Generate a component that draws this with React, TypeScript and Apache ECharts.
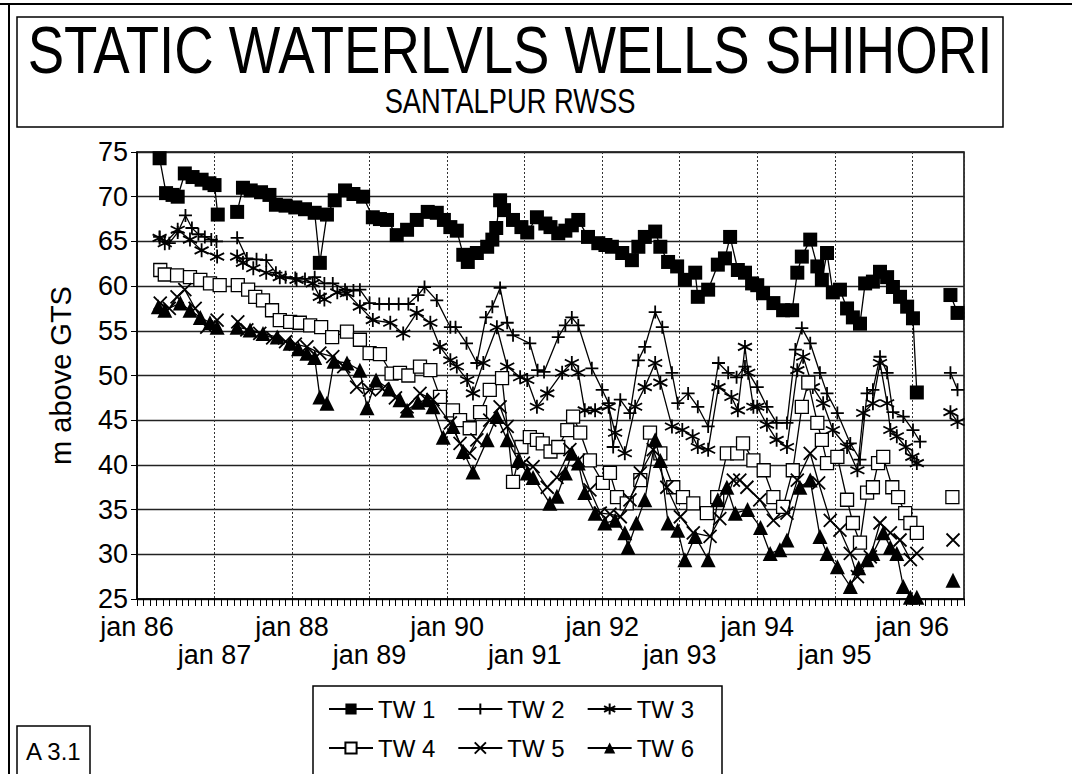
import React, { useEffect, useRef } from "react";
import * as echarts from "echarts";

const FONT = "'Liberation Sans', Arial, Helvetica, sans-serif";

const TITLE = "STATIC WATERLVLS WELLS SHIHORI";
const SUBTITLE = "SANTALPUR RWSS";
const Y_NAME = "m above GTS";
const FIGURE_TAG = "A 3.1";
const START_YEAR = 86; // x = months since jan 86
const X_MAX_MONTH = 128;
const Y_MIN = 25;
const Y_MAX = 75;
const Y_STEP = 5;
const SERIES_NAMES = ["TW 1", "TW 2", "TW 3", "TW 4", "TW 5", "TW 6"];

// [month since jan 86, m above GTS]; "-" marks missing readings
const tw1: any[] = [
  [3.5, 74.3], [4.5, 70.4], [5.5, 70.2], [6.3, 70.0], [7.4, 72.6], [8.6, 72.2], [10, 71.9], [11.2, 71.5], [12, 71.3], [12.5, 68.0],
  [14, "-"],
  [15.5, 68.3], [16.4, 71.0], [17.6, 70.7], [19.2, 70.5], [20.5, 70.2], [21.5, 69.1], [23, 69.0], [24.5, 68.8], [26, 68.6], [27.5, 68.2],
  [28.3, 62.6], [29.4, 68.0], [30.6, 69.6], [32.2, 70.7], [33.5, 70.3], [35, 70.0], [36.5, 67.7], [37.6, 67.5], [38.7, 67.4], [40.2, 65.7],
  [41.8, 66.3], [43.3, 67.4], [45, 68.3], [46.4, 68.2], [47.5, 67.4], [48.5, 66.6], [49.5, 66.2], [50.5, 63.5], [51.2, 62.7], [52.6, 63.7],
  [54.2, 64.4], [55, 65.2], [55.6, 66.5], [56.2, 69.6], [56.8, 68.5], [58.2, 67.4], [59.5, 66.6], [60.4, 66.0], [61.9, 67.7], [63.2, 67.0],
  [64, 66.6], [65.2, 65.9], [66.3, 66.2], [67.3, 66.8], [68.3, 67.4], [69.8, 65.5], [71.4, 64.8], [72.5, 64.6], [73.5, 64.4], [75.1, 63.7],
  [76.6, 62.9], [77.6, 64.4], [78.6, 65.5], [80.2, 66.1], [81, 64.4], [82.2, 62.7], [83.6, 62.2], [84.8, 60.7], [86.4, 61.5], [86.8, 58.8],
  [88.4, 59.6], [89.9, 62.4], [91, 63.1], [91.8, 65.5], [93, 61.8], [94.1, 61.5], [95.2, 60.3], [96, 60.1], [96.9, 59.2], [98.5, 58.1],
  [100, 57.3], [101.4, 57.3], [102.2, 61.5], [102.9, 63.3], [104.2, 65.2], [105.3, 62.2], [106, 60.7], [106.8, 63.7], [107.7, 59.3],
  [108.8, 59.6], [109.9, 57.5], [110.8, 56.5], [111.9, 55.8], [112.7, 60.3], [113.9, 60.5], [115, 61.6], [116.1, 61.0], [117, 59.9],
  [118.1, 58.8], [119.2, 57.7], [120.1, 56.4], [120.7, 48.1],
  [123, "-"],
  [125.9, 59.0], [127, 57.0],
];

const tw2: any[] = [
  [3.5, 65.5], [5, 64.8], [6.3, 66.0], [7.5, 67.9], [8.5, 66.5], [9.5, 65.8], [10.5, 65.5], [11.5, 65.2], [12.3, 65.0],
  [14, "-"],
  [15.5, 65.4], [17, 63.1], [18.5, 63.0], [20, 62.9], [21.5, 61.5], [23, 61.0], [24.5, 60.9], [26, 60.8], [27.5, 61.0], [29, 60.3],
  [30.3, 60.3], [32.2, 59.6], [33.5, 59.5], [34.5, 59.6], [36, 58.1], [37.5, 58.0], [39, 58.0], [40.5, 58.0], [42, 58.0], [43.5, 59.0],
  [44.5, 59.9], [46.4, 58.4], [48.5, 55.4], [49.3, 55.4], [51, 53.6], [52.6, 51.4], [54, 56.5], [55, 57.7], [56.2, 59.8], [57.3, 55.9],
  [58.2, 54.5], [60.8, 53.6], [62, 50.6], [63, 50.4], [65.2, 54.3], [66.3, 55.6], [67.3, 56.5], [68.3, 55.6], [70.4, 50.8], [72, 48.4],
  [73, 46.9], [73.7, 42.0], [74.8, 47.3], [76.3, 45.8], [77.6, 51.7], [78.6, 53.2], [80.2, 57.1], [81.3, 55.4], [82.8, 50.3], [83.7, 46.9],
  [85.3, 48.0], [86.8, 46.5], [88.4, 44.3], [90, 51.4], [91.5, 50.3], [92.8, 49.8], [94.1, 51.0], [96, 48.7], [97.5, 46.5], [99, 44.7],
  [100.6, 44.7], [101.9, 52.9], [102.9, 55.3], [104.2, 53.6], [105.7, 50.3], [106.8, 48.0], [108.4, 45.8], [110.4, 42.4], [111.9, 40.6],
  [113, 48.0], [113.9, 48.4], [115, 52.1], [116.1, 50.3], [117, 45.9], [118.6, 45.4], [120.1, 43.9], [121.2, 42.6],
  [123, "-"],
  [125.9, 50.3], [127, 48.4],
];

const tw3: any[] = [
  [3.5, 65.4], [4.3, 64.8], [6.3, 66.3], [8.2, 65.2], [10, 64.0], [12.4, 63.3],
  [14, "-"],
  [15.5, 63.3], [16.4, 62.6], [18, 62.0], [20, 61.5], [22.1, 61.0], [24.7, 60.7], [27.2, 60.3], [28.3, 58.8], [29, 58.5], [31, 59.3],
  [32.5, 59.2], [34.5, 57.7], [36.5, 56.2], [39.2, 55.9], [41.2, 54.7], [43.3, 57.0], [45.4, 55.9], [46.9, 53.2], [48.5, 51.7],
  [49.5, 51.0], [51.1, 49.5], [52, 48.0], [53.6, 51.4], [55.7, 55.4], [57.3, 51.0], [59.3, 49.8], [60.4, 49.5], [61.9, 46.5],
  [63.5, 48.0], [65.8, 50.3], [67.3, 51.4], [68.3, 50.3], [69.3, 46.1], [70.9, 46.1], [73, 46.5], [74, 43.6], [75.5, 41.3], [77.1, 46.5],
  [78.6, 48.7], [80.2, 51.4], [81, 49.2], [82.8, 44.3], [84.4, 43.9], [86, 43.2], [86.8, 42.0], [88.4, 41.7], [90, 48.7], [92, 47.6],
  [93, 46.1], [94.1, 53.2], [94.6, 50.3], [95.4, 46.5], [96, 46.5], [97.5, 44.5], [99, 42.8], [100.6, 42.0], [102.2, 50.6], [103.1, 52.1],
  [104.6, 48.7], [106.2, 46.9], [107.7, 43.9], [109.9, 42.0], [111.5, 39.4], [112.4, 45.8], [113.9, 46.9], [115, 51.4], [116.1, 46.9],
  [116.6, 43.9], [117.6, 43.2], [119, 42.0], [120, 40.9], [120.7, 40.2],
  [123, "-"],
  [125.9, 45.9], [127, 44.8],
];

const tw4: any[] = [
  [3.6, 61.8], [4.3, 61.3], [6.2, 61.2], [8.2, 61.0], [9.8, 60.7], [11.3, 60.3], [12.8, 60.1],
  [14, "-"],
  [15.6, 60.1], [17.2, 59.6], [18.3, 58.8], [19.5, 58.4], [20.9, 57.3], [22.1, 56.2], [23.7, 56.0], [25.2, 55.9], [26.8, 55.6],
  [28.5, 55.4], [30.2, 54.3], [32.5, 54.9], [34.5, 54.0], [36, 52.5], [37.6, 52.4], [39.4, 50.2], [40.7, 50.3], [42, 50.0], [43.8, 51.0],
  [45.4, 50.6], [46.9, 47.6], [48.9, 46.1], [50, 45.0], [51.5, 44.1], [53.1, 45.9], [54.6, 48.4], [56.5, 49.7], [58.2, 38.1], [59.5, 42.0],
  [60.8, 43.1], [61.9, 42.8], [62.8, 42.4], [64, 41.5], [65.2, 42.0], [66.6, 43.9], [67.5, 45.4], [68.6, 43.6], [70.1, 40.5], [72.1, 38.0],
  [73.2, 39.1], [74.3, 36.4], [75.8, 35.7], [77.9, 38.3], [79.4, 43.6], [81, 41.3], [83, 37.5], [84.5, 36.4], [86.1, 35.7], [88.2, 34.6],
  [89.8, 36.4], [91.3, 41.3], [92.9, 41.3], [93.8, 42.4], [95.4, 40.5], [97, 39.4], [98.5, 36.4], [100, 35.3], [101.5, 39.4], [102.9, 46.5],
  [103.9, 49.2], [105.3, 44.7], [106, 42.8], [106.8, 40.2], [108.4, 40.9], [109.9, 36.1], [110.8, 33.5], [111.9, 31.3], [113, 36.9],
  [113.9, 37.5], [114.7, 40.2], [115.5, 40.9], [116.9, 37.5], [117.8, 36.4], [118.9, 34.6], [119.7, 33.5], [120.7, 32.4],
  [123, "-"],
  [126.2, 36.4],
];

const tw5: any[] = [
  [3.6, 58.1], [5, 57.5], [6.2, 58.8], [7.4, 59.6], [9, 57.5], [10.8, 55.4], [12.4, 56.2],
  [14, "-"],
  [15.6, 56.0], [17, 55.1], [19, 54.7], [21, 54.2], [23, 53.8], [24.5, 53.5], [26.3, 53.2], [28.3, 52.5], [30.3, 52.1], [32, 51.0],
  [34, 48.7], [36, 48.4], [38, 48.5], [40, 47.5], [41.8, 46.5], [43.8, 48.0], [45.8, 47.3], [48.5, 44.7], [50, 42.4], [51.5, 41.3],
  [52.6, 42.8], [54.6, 45.0], [56.2, 46.5], [57.3, 44.3], [59.8, 40.2], [61.3, 39.8], [63.5, 37.5], [65, 38.6], [67, 41.7], [68.3, 40.5],
  [70.1, 37.2], [71.7, 34.6], [73.2, 34.5], [74.8, 34.2], [76.3, 36.1], [77.9, 39.1], [79.9, 41.7], [82, 37.5], [84.1, 34.2], [86.1, 32.4],
  [88.7, 32.0], [90.2, 34.0], [92.3, 38.3], [93.3, 38.3], [94.4, 37.5], [96.4, 36.1], [98.5, 33.8], [100.6, 34.6], [102.2, 38.3],
  [104.2, 41.3], [105.5, 38.0], [107.3, 33.8], [108.8, 32.7], [110.4, 30.1], [111.5, 27.5], [113.5, 29.7], [115, 33.5], [116.6, 32.4],
  [118.1, 31.6], [119.7, 29.4], [120.7, 30.1],
  [123, "-"],
  [126.3, 31.6],
];

const tw6: any[] = [
  [3.3, 57.7], [4.3, 57.3], [6.7, 58.1], [8.2, 57.3], [9.8, 56.5], [11.3, 55.9], [12.4, 55.4],
  [14, "-"],
  [15.5, 55.4], [17.5, 55.1], [19.5, 54.7], [21.7, 54.3], [23.7, 53.6], [25, 53.0], [26.3, 52.5], [27.5, 52.0], [28.3, 47.6], [29.4, 46.9],
  [30.5, 51.6], [32.5, 51.4], [34.5, 50.6], [35.6, 46.4], [37, 49.5], [39, 48.5], [40.7, 47.3], [41.8, 46.1], [43.5, 47.0], [44.9, 47.3],
  [45.8, 46.5], [47.4, 43.1], [48.9, 44.3], [50.5, 41.5], [52, 39.2], [54.2, 42.8], [55.7, 45.4], [57.3, 42.8], [59, 40.5], [60.4, 39.1],
  [61.3, 38.6], [63.9, 35.7], [65, 36.5], [66.3, 39.1], [67.3, 41.3], [68.3, 40.2], [69.3, 36.9], [70.9, 34.6], [72.4, 33.5], [74, 33.8],
  [75.5, 32.4], [76, 30.8], [77.3, 33.5], [78.6, 36.1], [80.2, 42.8], [81, 40.5], [82.2, 33.5], [83.7, 32.7], [84.8, 29.4], [86.4, 32.0],
  [88.4, 29.4], [89.9, 36.1], [91.3, 37.5], [92.6, 34.6], [94.5, 35.0], [96.5, 33.0], [98, 30.1], [99.5, 30.5], [100.6, 31.6],
  [102.6, 37.5], [104.2, 38.3], [105.7, 32.0], [106.8, 30.1], [108.4, 28.6], [110.4, 26.4], [111.7, 28.5], [113, 29.4], [113.9, 30.1],
  [115.5, 32.4], [116.6, 30.8], [117.6, 30.1], [118.6, 26.4], [119.7, 25.2], [120.7, 25.2],
  [123, "-"],
  [126.3, 27.1],
];

const SERIES_DATA = [tw1, tw2, tw3, tw4, tw5, tw6];

const MARKERS = [
  { symbol: "rect", size: 14, fill: "#000", stroke: "#000", strokeWidth: 0 },
  { symbol: "path://M0,5L10,5M5,0L5,10", size: 13, fill: "rgba(0,0,0,0)", stroke: "#000", strokeWidth: 1.8 },
  { symbol: "path://M5,0L5,10M0.67,2.5L9.33,7.5M0.67,7.5L9.33,2.5", size: 14, fill: "rgba(0,0,0,0)", stroke: "#000", strokeWidth: 1.8 },
  { symbol: "rect", size: 13, fill: "#fff", stroke: "#000", strokeWidth: 1.3 },
  { symbol: "path://M0,0L10,10M0,10L10,0", size: 13, fill: "rgba(0,0,0,0)", stroke: "#000", strokeWidth: 1.8 },
  { symbol: "triangle", size: 15, fill: "#000", stroke: "#000", strokeWidth: 0 },
];

export default function App() {
  const ref = useRef<HTMLDivElement>(null);

  useEffect(() => {
    if (!ref.current) return;
    const chart = echarts.init(ref.current, undefined, { renderer: "svg" });

    const series = SERIES_NAMES.map((name, i) => ({
      type: "line",
      name,
      data: SERIES_DATA[i],
      symbol: MARKERS[i].symbol,
      symbolSize: MARKERS[i].size,
      showSymbol: true,
      showAllSymbol: true,
      connectNulls: false,
      lineStyle: { color: "#000", width: 1.3 },
      itemStyle: { color: MARKERS[i].fill, borderColor: MARKERS[i].stroke, borderWidth: MARKERS[i].strokeWidth },
      emphasis: { disabled: true },
      z: 2 + i,
    }));

    const legendText = { fontFamily: FONT, fontSize: 24, color: "#000" };

    chart.setOption({
      animation: false,
      backgroundColor: "#fff",
      grid: {
        left: 137, right: 108, top: 152, bottom: 175,
        show: true, borderColor: "#000", borderWidth: 1.5, backgroundColor: "transparent",
      },
      xAxis: {
        type: "value",
        min: 0,
        max: X_MAX_MONTH,
        interval: 12,
        axisLine: { show: true, onZero: false, lineStyle: { color: "#000", width: 1.5 } },
        axisTick: { show: true, inside: false, length: 7, lineStyle: { color: "#000", width: 1 } },
        minorTick: { show: true, splitNumber: 12, length: 7, lineStyle: { color: "#000", width: 1 } },
        splitLine: { show: true, lineStyle: { color: "#333", width: 1, type: [2, 2] } },
        axisLabel: {
          fontFamily: FONT, fontSize: 27, color: "#000", margin: 14, lineHeight: 28,
          showMinLabel: true,
          formatter: (v: number) => {
            if (v % 12 !== 0) return "";
            const k = v / 12;
            const label = `jan ${START_YEAR + k}`;
            return k % 2 === 0 ? label : `\n${label}`;
          },
        },
      },
      yAxis: {
        type: "value",
        min: Y_MIN,
        max: Y_MAX,
        interval: Y_STEP,
        name: Y_NAME,
        nameLocation: "middle",
        nameGap: 62,
        nameTextStyle: { fontFamily: FONT, fontSize: 29, color: "#000" },
        axisLine: { show: true, lineStyle: { color: "#000", width: 1.5 } },
        axisTick: { show: true, inside: false, length: 6, lineStyle: { color: "#000", width: 1 } },
        splitLine: { show: true, lineStyle: { color: "#222", width: 1.3 } },
        axisLabel: { fontFamily: FONT, fontSize: 27, color: "#000", margin: 9 },
      },
      legend: [
        {
          data: SERIES_NAMES.slice(0, 3), left: 328, top: 697, itemWidth: 44, itemHeight: 14, itemGap: 22,
          padding: 0, selectedMode: false, textStyle: legendText,
        },
        {
          data: SERIES_NAMES.slice(3), left: 328, top: 736, itemWidth: 44, itemHeight: 14, itemGap: 22,
          padding: 0, selectedMode: false, textStyle: legendText,
        },
      ],
      graphic: [
        { type: "line", shape: { x1: 0, y1: 4, x2: 1072, y2: 4 }, style: { stroke: "#000", lineWidth: 2 } },
        { type: "line", shape: { x1: 9, y1: 4, x2: 9, y2: 774 }, style: { stroke: "#000", lineWidth: 2 } },
        { type: "rect", shape: { x: 17, y: 17, width: 986, height: 110 }, style: { fill: "none", stroke: "#000", lineWidth: 1.5 } },
        {
          type: "text", x: 510, y: 50, scaleX: 0.815,
          style: { text: TITLE, fontFamily: FONT, fontSize: 67, fill: "#000", textAlign: "center", textVerticalAlign: "middle" },
        },
        {
          type: "text", x: 510, y: 101, scaleX: 0.78,
          style: { text: SUBTITLE, fontFamily: FONT, fontSize: 35, fill: "#000", textAlign: "center", textVerticalAlign: "middle" },
        },
        { type: "rect", shape: { x: 313, y: 686, width: 409, height: 110 }, style: { fill: "none", stroke: "#000", lineWidth: 1.5 } },
        { type: "rect", shape: { x: 17, y: 726, width: 73, height: 70 }, style: { fill: "none", stroke: "#000", lineWidth: 1.5 } },
        {
          type: "text", x: 26, y: 751,
          style: { text: FIGURE_TAG, fontFamily: FONT, fontSize: 24, fill: "#000", textAlign: "left", textVerticalAlign: "middle" },
        },
      ],
      series,
    });

    return () => chart.dispose();
  }, []);

  return <div ref={ref} style={{ position: "fixed", left: 0, top: 0, width: 1072, height: 774, background: "#fff" }} />;
}
